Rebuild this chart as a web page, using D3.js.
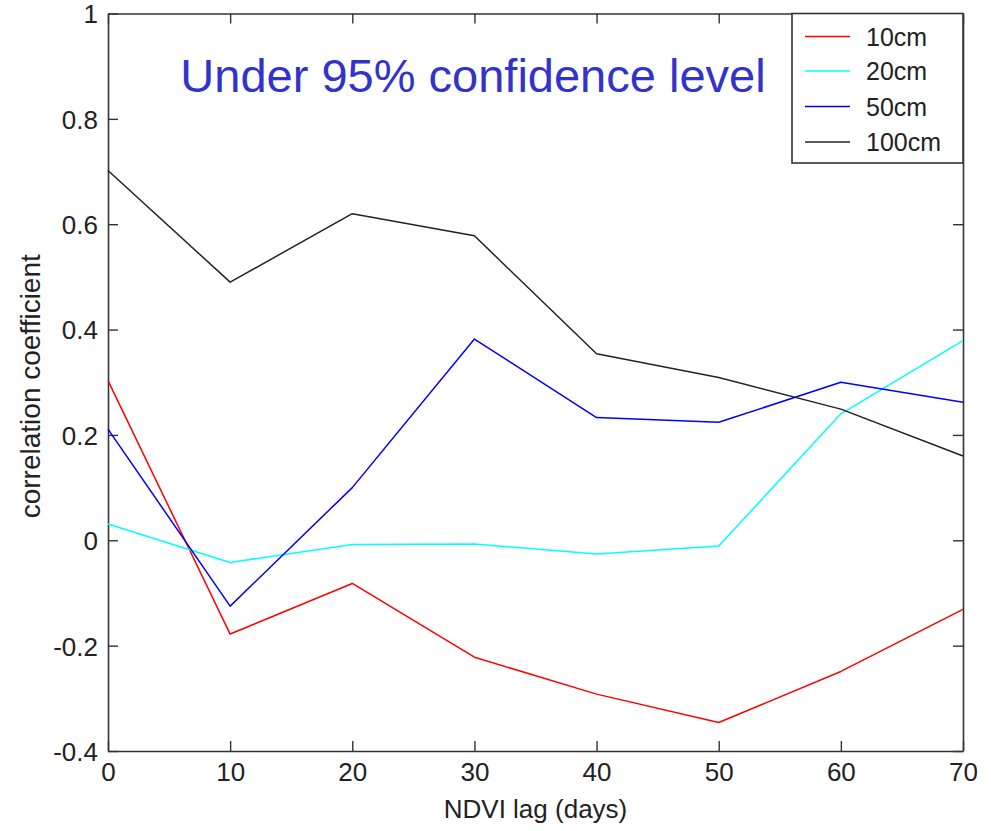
<!DOCTYPE html>
<html>
<head>
<meta charset="utf-8">
<script src="https://cdn.jsdelivr.net/npm/d3@7"></script>
<style>
  html, body { margin: 0; padding: 0; background: #fff; }
  svg { display: block; }
  text { font-family: "Liberation Sans", Arial, sans-serif; fill: #222; }
</style>
</head>
<body>
<svg id="chart" width="991" height="831"></svg>
<script>
// NDVI lag (days)
const lags = [0, 10, 20, 30, 40, 50, 60, 70];

// Correlation coefficient by soil depth
const depth10cm  = [0.303, -0.178, -0.082, -0.222, -0.292, -0.346, -0.249, -0.131];
const depth20cm  = [0.031, -0.042, -0.008, -0.007, -0.026, -0.011, 0.240, 0.379];
const depth50cm  = [0.211, -0.125, 0.100, 0.382, 0.233, 0.224, 0.300, 0.262];
const depth100cm = [0.702, 0.490, 0.620, 0.578, 0.354, 0.309, 0.249, 0.160];

const seriesNames  = ["10cm", "20cm", "50cm", "100cm"];
const seriesColors = ["#ff0000", "#00ffff", "#0000ff", "#222222"];
const seriesValues = [depth10cm, depth20cm, depth50cm, depth100cm];

const xTicks = [0, 10, 20, 30, 40, 50, 60, 70];
const yTicks = [-0.4, -0.2, 0, 0.2, 0.4, 0.6, 0.8, 1];

const titleText = "Under 95% confidence level";
const xLabel = "NDVI lag (days)";
const yLabel = "correlation coefficient";

const svg = d3.select("#chart");
const plotLeft = 108, plotRight = 963, plotTop = 13.5, plotBottom = 751;

const x = d3.scaleLinear().domain([0, 70]).range([plotLeft, plotRight]);
const y = d3.scaleLinear().domain([-0.4, 1]).range([plotBottom, plotTop]);

const axisColor = "#333";
const tickLen = 10;
// Plain hyphen-minus for negative tick labels
const fmt = d => (d === 0 || d === 1) ? String(d) : d.toFixed(1);

// Bottom axis with inward ticks
const gx = svg.append("g").attr("transform", `translate(0,${plotBottom})`)
  .call(d3.axisBottom(x).tickValues(xTicks).tickSizeInner(-tickLen).tickSizeOuter(0).tickPadding(20).tickFormat(d => String(d)));
// Top axis, ticks only
const gxt = svg.append("g").attr("transform", `translate(0,${plotTop})`)
  .call(d3.axisTop(x).tickValues(xTicks).tickSizeInner(-tickLen).tickSizeOuter(0).tickFormat(""));
// Left axis with inward ticks
const gy = svg.append("g").attr("transform", `translate(${plotLeft},0)`)
  .call(d3.axisLeft(y).tickValues(yTicks).tickSizeInner(-tickLen).tickSizeOuter(0).tickPadding(20).tickFormat(fmt));
// Right axis, ticks only
const gyr = svg.append("g").attr("transform", `translate(${plotRight},0)`)
  .call(d3.axisRight(y).tickValues(yTicks).tickSizeInner(-tickLen).tickSizeOuter(0).tickFormat(""));

[gx, gxt, gy, gyr].forEach(g => {
  g.select(".domain").attr("stroke", axisColor).attr("stroke-width", 1.6);
  g.selectAll(".tick line").attr("stroke", axisColor).attr("stroke-width", 1.4);
  g.selectAll(".tick text").attr("font-size", 26).attr("fill", "#222")
    .style("font-family", "'Liberation Sans', Arial, sans-serif");
});
gx.selectAll(".tick text").attr("dy", "0.71em").attr("y", 12);
gy.selectAll(".tick text").attr("x", -10).attr("dy", "0.36em");

// Series lines
const line = d3.line().x((d, i) => x(lags[i])).y(d => y(d));
seriesValues.forEach((vals, k) => {
  svg.append("path")
    .datum(vals)
    .attr("fill", "none")
    .attr("stroke", seriesColors[k])
    .attr("stroke-width", 1.5)
    .attr("stroke-linejoin", "round")
    .attr("d", line);
});

// Title inside the plot
svg.append("text")
  .attr("x", 473).attr("y", 92)
  .attr("text-anchor", "middle")
  .attr("font-size", 47)
  .style("fill", "#3333cc")
  .text(titleText);

// Axis titles
svg.append("text")
  .attr("x", (plotLeft + plotRight) / 2).attr("y", 818)
  .attr("text-anchor", "middle")
  .attr("font-size", 26)
  .text(xLabel);

svg.append("text")
  .attr("transform", `translate(40,${(plotTop + plotBottom) / 2 + 4}) rotate(-90)`)
  .attr("text-anchor", "middle")
  .attr("font-size", 28)
  .text(yLabel);

// Legend box
const legX = 792, legY = plotTop, legW = plotRight - 792, legH = 163 - plotTop;
svg.append("rect")
  .attr("x", legX).attr("y", legY).attr("width", legW).attr("height", legH)
  .attr("fill", "#fff").attr("stroke", axisColor).attr("stroke-width", 1.6);

const legRowY = [36.5, 71, 106.5, 142];
seriesNames.forEach((name, k) => {
  const ly = legRowY[k];
  svg.append("line")
    .attr("x1", 805).attr("x2", 850).attr("y1", ly).attr("y2", ly)
    .attr("stroke", seriesColors[k]).attr("stroke-width", 1.5);
  svg.append("text")
    .attr("x", 866).attr("y", ly).attr("dy", "0.36em")
    .attr("font-size", 25)
    .text(name);
});
</script>
</body>
</html>
